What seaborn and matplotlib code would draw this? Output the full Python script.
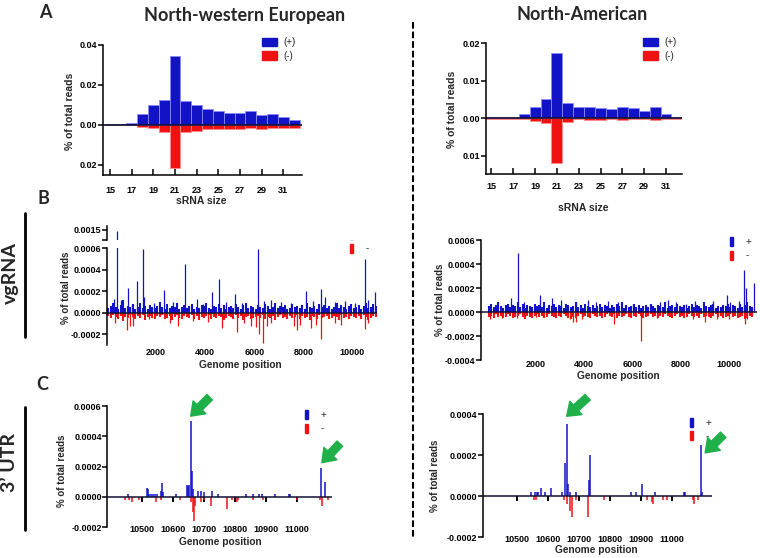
import numpy as np
import pandas as pd
import matplotlib
matplotlib.use("Agg")
import matplotlib.pyplot as plt
import seaborn as sns
from matplotlib.patches import Patch
from matplotlib.lines import Line2D
from matplotlib.ticker import FuncFormatter
from matplotlib.transforms import offset_copy

# ---------------- data ----------------
# A: sRNA size distribution (% of total reads)
srna_size = list(range(15, 33))
nw_size_plus = [0.0005, 0.0005, 0.0010, 0.0053, 0.0100, 0.0125, 0.0347, 0.0120, 0.0098,
                0.0080, 0.0072, 0.0062, 0.0062, 0.0070, 0.0052, 0.0055, 0.0042, 0.0025]
nw_size_minus = [0.0001, 0.0001, 0.0002, 0.0008, 0.0015, 0.0033, 0.0217, 0.0035, 0.0028,
                 0.0020, 0.0018, 0.0018, 0.0018, 0.0017, 0.0018, 0.0017, 0.0016, 0.0015]
na_size_plus = [0.0003, 0.0003, 0.0004, 0.0012, 0.0031, 0.0052, 0.0173, 0.0042, 0.0031,
                0.0029, 0.0028, 0.0025, 0.0031, 0.0027, 0.0020, 0.0030, 0.0012, 0.0004]
na_size_minus = [0.0001, 0.0001, 0.0001, 0.0002, 0.0006, 0.0012, 0.0118, 0.0010, 0.0003,
                 0.0004, 0.0005, 0.0003, 0.0004, 0.0003, 0.0003, 0.0004, 0.0003, 0.0002]

# B: reads along the genome, values in 1e-5 % of total reads
bg_pos = list(range(50, 11000, 100))  # low background, one value per 100 nt
nw_plus_bg = [4, 6, 9, 5, 3, 7, 12, 4, 6, 5, 8, 3, 5, 9, 4, 6, 3, 7, 5, 4,
              6, 10, 5, 3, 8, 4, 6, 5, 9, 3, 5, 7, 4, 6, 8, 3, 5, 4, 7, 6,
              9, 4, 3, 6, 5, 8, 4, 7, 3, 5, 6, 4, 8, 5, 3, 7, 9, 4, 6, 5,
              3, 7, 5, 4, 8, 6, 3, 5, 9, 4, 6, 5, 7, 3, 4, 8, 5, 6, 4, 7,
              3, 9, 5, 4, 6, 3, 8, 5, 7, 4, 6, 3, 5, 9, 4, 7, 5, 3, 6, 8,
              4, 5, 7, 3, 6, 9, 4, 5, 8, 6]
nw_minus_bg = [3, 5, 2, 4, 6, 3, 8, 4, 5, 2, 4, 6, 3, 5, 2, 7, 4, 3, 5, 6,
               3, 4, 2, 6, 5, 3, 7, 4, 2, 5, 6, 3, 4, 5, 2, 6, 3, 7, 4, 5,
               3, 2, 6, 4, 5, 3, 4, 7, 5, 3, 4, 6, 2, 5, 3, 7, 4, 3, 6, 5,
               4, 3, 5, 2, 6, 4, 5, 3, 7, 4, 2, 5, 4, 6, 3, 5, 4, 2, 6, 3,
               5, 4, 7, 3, 4, 6, 2, 5, 4, 3, 6, 5, 3, 4, 7, 2, 5, 4, 6, 3,
               4, 5, 3, 6, 2, 4, 7, 5, 3, 4]
na_plus_bg = [5, 7, 4, 6, 8, 5, 3, 6, 7, 4, 6, 5, 8, 4, 7, 3, 6, 5, 4, 7,
              5, 6, 4, 8, 3, 6, 5, 7, 4, 6, 5, 3, 7, 6, 4, 5, 8, 4, 6, 3,
              7, 5, 4, 6, 3, 5, 7, 4, 6, 5, 3, 6, 4, 7, 5, 8, 3, 6, 4, 5,
              7, 4, 6, 3, 5, 6, 4, 7, 5, 3, 6, 5, 4, 8, 3, 5, 6, 4, 7, 5,
              4, 6, 3, 5, 7, 4, 6, 5, 3, 8, 5, 4, 6, 7, 3, 5, 4, 6, 5, 7,
              4, 6, 5, 3, 7, 4, 6, 8, 5, 4]
na_minus_bg = [4, 3, 5, 2, 4, 3, 5, 4, 2, 3, 5, 4, 3, 2, 4, 6, 3, 4, 5, 3,
               2, 4, 3, 5, 4, 2, 3, 4, 5, 3, 4, 2, 3, 5, 6, 4, 5, 3, 2, 4,
               3, 4, 5, 2, 3, 4, 3, 5, 4, 2, 3, 4, 2, 5, 3, 4, 3, 2, 4, 5,
               3, 4, 2, 3, 5, 4, 3, 2, 4, 3, 5, 3, 4, 2, 3, 4, 5, 3, 2, 4,
               3, 5, 4, 2, 3, 4, 3, 5, 2, 4, 3, 4, 5, 3, 2, 4, 3, 5, 4, 3,
               2, 4, 3, 5, 4, 3, 6, 5, 3, 4]

nw_plus_pos = [300, 395, 560, 845, 1000, 1237, 1455, 1523, 1900, 2326, 2700, 3170, 3658, 3900,
               4271, 4570, 4850, 5195, 5500, 6133, 6400, 6700, 7100, 7500, 8106, 8400, 8731,
               8894, 9300, 9700, 10100, 10526, 10650, 10907]
nw_plus_val = [13, 148, 12, 23, 8, 29, 59, 15, 9, 21, 10, 45, 13, 8, 19, 31, 10, 17, 9, 59,
               11, 12, 10, 9, 20, 11, 22, 15, 10, 11, 9, 50, 12, 19]
nw_minus_pos = [330, 830, 950, 1050, 1700, 2570, 2910, 3500, 4100, 4680, 5290, 5600, 5875, 6050,
                6200, 6352, 6515, 6700, 7600, 7739, 7880, 8296, 8500, 8731, 9300, 9550, 10526, 10620]
nw_minus_val = [10, 16, 12, 12, 6, 10, 12, 8, 9, 14, 18, 10, 12, 13, 20, 28, 12, 10, 12, 16,
                11, 14, 11, 24, 10, 11, 15, 10]
na_plus_pos = [985, 1254, 1500, 2153, 2664, 3023, 3645, 4155, 4500, 5000, 5400, 6000, 7133, 7450,
               7800, 8200, 8600, 9340, 9894, 10050, 10400, 10624, 10693, 11038]
na_plus_val = [12, 49, 8, 14, 12, 10, 8, 10, 8, 9, 8, 7, 8, 10, 8, 7, 9, 9, 14, 8, 9, 35, 20, 24]
na_minus_pos = [100, 600, 1200, 2000, 3400, 3550, 3668, 3900, 5229, 6334, 7000, 8500, 9000, 9500,
                10000, 10650, 10750]
na_minus_val = [6, 5, 5, 4, 6, 8, 8, 6, 10, 24, 5, 6, 8, 6, 6, 10, 6]

# C: 3' UTR, values in 1e-5 % of total reads
nw_utr_plus_pos = [10455, 10516, 10519, 10524, 10530, 10536, 10542, 10548, 10562, 10566, 10570,
                   10612, 10645, 10650, 10653, 10658, 10661, 10664, 10683, 10692, 10700, 10726,
                   10745, 10838, 10860, 10880, 10888, 10930, 10975, 10980, 11078, 11091]
nw_utr_plus_val = [2, 6, 5, 2, 2, 2, 2, 2, 4, 9, 3, 2, 8, 7, 8, 50, 17, 5, 4, 4, 3, 4,
                   2, 2, 2, 2, 2, 2, 2, 2, 19, 10]
nw_utr_minus_pos = [10445, 10460, 10470, 10490, 10545, 10562, 10625, 10660, 10667, 10670, 10673,
                    10690, 10700, 10722, 10774, 10790, 10807, 10812, 10860, 10890, 11000, 11075,
                    11081, 11100]
nw_utr_minus_val = [2, 2, 3, 2, 3, 2, 2, 3, 10, 16, 6, 3, 2, 6, 8, 2, 3, 2, 2, 2, 2, 2, 6, 2]
na_utr_plus_pos = [10545, 10559, 10565, 10568, 10577, 10592, 10611, 10645, 10656, 10661, 10665,
                   10672, 10690, 10733, 10737, 10868, 10885, 10905, 10946, 11038, 11043, 11095, 11099]
na_utr_plus_val = [2, 2, 2, 2, 4, 2, 4, 2, 16, 35, 6, 2, 2, 8, 20, 2, 2, 6, 2, 2, 2, 25, 2]
na_utr_minus_pos = [10554, 10562, 10651, 10663, 10672, 10677, 10690, 10731, 10783, 10919, 10935,
                    10941, 10973, 10984, 11070, 11072, 11086]
na_utr_minus_val = [2, 2, 2, 4, 7, 10, 2, 10, 2, 2, 3, 4, 2, 2, 2, 4, 2]
nw_arrow_at = [10658, 11078]
na_arrow_at = [10661, 11095]

# ---------------- style ----------------
BLUE = "#1212c6"
RED = "#f01212"
GREEN = "#1fb04a"
UNIT = 1e-5

sns.set_theme(style="ticks")
plt.rcParams["font.family"] = ["Liberation Sans", "DejaVu Sans"]
plt.rcParams["font.weight"] = "bold"
plt.rcParams["axes.linewidth"] = 1.1
plt.rcParams["axes.edgecolor"] = "black"
plt.rcParams["xtick.color"] = "black"
plt.rcParams["ytick.color"] = "black"
TITLE_FONT = ["Lato", "DejaVu Sans"]

W, H = 760, 558
fig = plt.figure(figsize=(W / 100, H / 100), dpi=100)


def px_box(b):
    x0, y0, x1, y1 = b
    return [x0 / W, 1 - y1 / H, (x1 - x0) / W, (y1 - y0) / H]


def ax_frac(b, x, y):
    x0, y0, x1, y1 = b
    return (x - x0) / (x1 - x0), (y1 - y) / (y1 - y0)


def labels(ax, b, xlab, xlab_xy, ylab_xy, xsize, ysize):
    ax.set_xlabel(xlab, fontsize=xsize, fontweight="bold", va="center")
    ax.set_ylabel("% of total reads", fontsize=ysize, fontweight="bold", va="center")
    ax.xaxis.set_label_coords(*ax_frac(b, *xlab_xy))
    ax.yaxis.set_label_coords(*ax_frac(b, *ylab_xy))


def size_panel(b, plus, minus, ylim, yticks, xlim, xpad, xlab_xy, ylab_xy, leg_xy):
    ax = fig.add_axes(px_box(b))
    df = pd.DataFrame({"size": srna_size, "plus": plus, "minus": [-m for m in minus]})
    sns.barplot(data=df, x="size", y="plus", native_scale=True, width=1, color=BLUE,
                saturation=1, edgecolor="#8a8aff", linewidth=0.6, errorbar=None, ax=ax)
    sns.barplot(data=df, x="size", y="minus", native_scale=True, width=1, color=RED,
                saturation=1, edgecolor="#ff8a8a", linewidth=0.6, errorbar=None, ax=ax)
    ax.axhline(0, color="#111133", lw=1.2, zorder=5)
    ax.set_xlim(*xlim)
    ax.set_ylim(*ylim)
    ax.set_xticks(srna_size[::2])
    ax.set_yticks(yticks)
    ax.yaxis.set_major_formatter(FuncFormatter(lambda v, p: f"{abs(v):.2f}"))
    ax.tick_params(axis="x", direction="in", length=4, width=1.1, labelsize=6.5, pad=xpad)
    ax.tick_params(axis="y", direction="out", length=3.5, width=1.1, labelsize=6.5, pad=0.5)
    for t in ax.get_xticklabels() + ax.get_yticklabels():
        t.set_fontweight("bold")
    sns.despine(ax=ax)
    labels(ax, b, "sRNA size", xlab_xy, ylab_xy, 7.5, 7.5)
    ax.legend(handles=[Patch(color=BLUE), Patch(color=RED)], labels=["(+)", "(-)"],
              loc="upper left", bbox_to_anchor=(leg_xy[0] / W, 1 - leg_xy[1] / H),
              bbox_transform=fig.transFigure, frameon=False, borderpad=0,
              borderaxespad=0, handlelength=1.55, handleheight=0.93, handletextpad=0.6,
              labelspacing=0.4, prop={"weight": "normal", "size": 7})
    return ax


def strand_bars(ax, pos, val, sign, color, lw):
    ax.vlines(pos, 0, [sign * v * UNIT for v in val], color=color, lw=lw)


def strand_legend(ax, leg_xy):
    ax.legend(handles=[Patch(color=BLUE), Patch(color=RED)], labels=["+", "-"],
              loc="upper left", bbox_to_anchor=(leg_xy[0] / W, 1 - leg_xy[1] / H),
              bbox_transform=fig.transFigure, frameon=False, borderpad=0, borderaxespad=0,
              handlelength=0.32, handleheight=1.05, handletextpad=1.3, labelspacing=0.35,
              prop={"weight": "normal", "size": 7})


def style_genome_axis(ax, xlim, ylim, yticks, xticks, xpad):
    ax.set_xlim(*xlim)
    ax.set_ylim(*ylim)
    ax.set_yticks(yticks)
    ax.yaxis.set_major_formatter(FuncFormatter(lambda v, p: f"{v:.4f}"))
    ax.set_xticks(xticks)
    ax.tick_params(axis="x", length=0, labelsize=6.5, pad=xpad)
    ax.tick_params(axis="y", direction="out", length=3.5, width=1.1, labelsize=6.5, pad=0.5)
    for t in ax.get_xticklabels() + ax.get_yticklabels():
        t.set_fontweight("bold")
    for s in ["top", "right", "bottom"]:
        ax.spines[s].set_visible(False)
    ax.axhline(0, color="#111133", lw=1.1, zorder=5)


def genome_panel(b, series, ylim, yticks, xlim, xpad, xlab_xy, ylab_xy, leg_xy, top_box=None):
    ax = fig.add_axes(px_box(b))
    xticks = [2000, 4000, 6000, 8000, 10000]
    (pb, mb, pp, pv, mp, mv) = series
    axes = [ax]
    if top_box is not None:
        axes.append(fig.add_axes(px_box(top_box)))
    for a in axes:
        strand_bars(a, bg_pos, pb, 1, BLUE, 1.5)
        strand_bars(a, pp, pv, 1, BLUE, 0.9)
        strand_bars(a, bg_pos, mb, -1, RED, 1.5)
        strand_bars(a, mp, mv, -1, RED, 0.9)
    style_genome_axis(ax, xlim, ylim, yticks, xticks, xpad)
    if top_box is not None:
        top = axes[1]
        top.set_xlim(*xlim)
        top.set_ylim(0.00135, 0.00155)
        top.set_yticks([0.00135, 0.0015], labels=["", "0.0015"])
        top.set_xticks([])
        top.tick_params(axis="y", direction="out", length=3.5, width=1.1, labelsize=6.5, pad=0.5)
        for t in top.get_yticklabels():
            t.set_fontweight("bold")
        for s in ["top", "right", "bottom"]:
            top.spines[s].set_visible(False)
    labels(ax, b, "Genome position", xlab_xy, ylab_xy, 7.3, 7)
    strand_legend(ax, leg_xy)
    return ax


def utr_panel(b, pp, pv, mp, mv, arrow_at, arrows, ylim, yticks, xlim, xlab_xy, ylab_xy, leg_xy):
    ax = fig.add_axes(px_box(b))
    xticks = [10500, 10600, 10700, 10800, 10900, 11000]
    strand_bars(ax, pp, pv, 1, BLUE, 1.1)
    strand_bars(ax, mp, mv, -1, RED, 1.1)
    style_genome_axis(ax, xlim, ylim, yticks, xticks, -1.5)
    # small tick marks on the zero line
    zero = (0 - ylim[0]) / (ylim[1] - ylim[0])
    sec = ax.secondary_xaxis(zero)
    sec.set_xticks(xticks, labels=[])
    sec.tick_params(axis="x", direction="out", length=3.5, width=1.4, color="black")
    sec.spines["bottom"].set_visible(False)
    sec.spines["top"].set_visible(False)
    labels(ax, b, "Genome position", xlab_xy, ylab_xy, 7.3, 7)
    strand_legend(ax, leg_xy)
    # green arrows pointing at the main peaks
    for target, (hx, hy, tx, ty) in zip(arrow_at, arrows):
        peak = pv[pp.index(target)] * UNIT
        tr = offset_copy(ax.transData, fig=fig, x=hx * 0.72, y=hy * 0.72, units="points")
        ax.annotate("", xy=(target, peak), xycoords=tr,
                    xytext=(tx * 0.72, ty * 0.72), textcoords="offset points",
                    arrowprops=dict(arrowstyle="simple,head_length=0.9,head_width=1.3,tail_width=0.55",
                                    color=GREEN, shrinkA=0, shrinkB=0, mutation_scale=10),
                    annotation_clip=False)
    return ax


# ---------------- panels ----------------
size_panel((103, 45, 302, 175), nw_size_plus, nw_size_minus, (-0.025, 0.04),
           [-0.02, 0, 0.02, 0.04], (14.35, 32.73), 8, (201.7, 201), (70, 111), (262, 37))
size_panel((486, 43.3, 682, 174.3), na_size_plus, na_size_minus, (-0.0149, 0.02),
           [-0.01, 0, 0.01, 0.02], (14.5, 32.47), 5.5, (583, 208), (452, 109), (643, 37))

genome_panel((107, 248, 377, 345),
             (nw_plus_bg, nw_minus_bg, nw_plus_pos, nw_plus_val, nw_minus_pos, nw_minus_val),
             (-0.0003, 0.0006), [-0.0002, 0, 0.0002, 0.0004, 0.0006], (0, 11000), 2,
             (240.7, 365), (66, 288), (350, 230), top_box=(107, 226, 377, 240))
genome_panel((481, 240, 757, 360),
             (na_plus_bg, na_minus_bg, na_plus_pos, na_plus_val, na_minus_pos, na_minus_val),
             (-0.0004, 0.0006), [-0.0004, -0.0002, 0, 0.0002, 0.0004, 0.0006], (-270, 11150), 0,
             (618.7, 376), (440, 300), (730, 237))

utr_panel((107.3, 406, 331.7, 527.3), nw_utr_plus_pos, nw_utr_plus_val, nw_utr_minus_pos,
          nw_utr_minus_val, nw_arrow_at, [(0, 5, 19, 19), (1, 5.5, 18, 19)],
          (-0.0002, 0.0006), [-0.0002, 0, 0.0002, 0.0004, 0.0006], (10389, 11113),
          (220, 541.7), (62, 471), (304.5, 410))
utr_panel((482.7, 414, 711.7, 537.3), na_utr_plus_pos, na_utr_plus_val, na_utr_minus_pos,
          na_utr_minus_val, na_arrow_at, [(0, 8, 21, 19), (4, -8, 18, 18)],
          (-0.0002, 0.0004), [-0.0002, 0, 0.0002, 0.0004], (10390, 11129),
          (596.7, 550), (435, 476), (690, 417.7))

# ---------------- titles, panel letters, dividers ----------------
fig.text(245 / W, 1 - 15 / H, "North-western European", ha="center", va="center",
         fontsize=13, fontweight="bold", family=TITLE_FONT)
fig.text(582 / W, 1 - 15 / H, "North-American", ha="center", va="center",
         fontsize=13, fontweight="bold", family=TITLE_FONT)
for letter, (lx, ly) in zip("ABC", [(45, 12), (43, 198), (42, 385)]):
    fig.text(lx / W, 1 - ly / H, letter, ha="center", va="center", fontsize=13,
             fontweight="bold", family=TITLE_FONT)
fig.text(10 / W, 1 - 273 / H, "vgRNA", rotation=90, ha="center", va="center",
         fontsize=14, fontweight="bold", family=TITLE_FONT)
fig.text(10 / W, 1 - 462 / H, "3\u2019 UTR", rotation=90, ha="center", va="center",
         fontsize=14, fontweight="bold", family=TITLE_FONT)
for y0, y1 in [(213, 337), (407, 530)]:
    fig.add_artist(Line2D([25 / W, 25 / W], [1 - y0 / H, 1 - y1 / H], color="black", lw=2))
fig.add_artist(Line2D([413 / W, 413 / W], [1 - 22 / H, 1 - 537 / H], color="black",
                      lw=1.5, ls=(0, (3.2, 1.4))))

fig.savefig("out.png", dpi=100)
